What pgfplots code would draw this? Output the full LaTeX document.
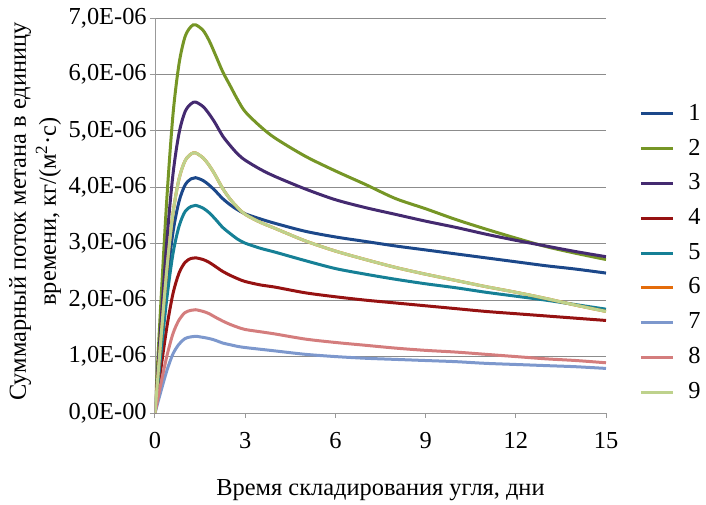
\documentclass[border=0pt]{standalone}
\usepackage{fontspec}
\setmainfont{Liberation Serif}
\usepackage{pgfplots}
\usepackage{pgfplotstable}
\pgfplotsset{compat=1.18}

\definecolor{c1}{RGB}{28,72,138}
\definecolor{c2}{RGB}{118,150,38}
\definecolor{c3}{RGB}{68,42,112}
\definecolor{c4}{RGB}{150,18,18}
\definecolor{c5}{RGB}{22,128,150}
\definecolor{c6}{RGB}{228,108,10}
\definecolor{c7}{RGB}{125,152,205}
\definecolor{c8}{RGB}{212,125,125}
\definecolor{c9}{RGB}{190,210,140}

% flux, 1e-6 kg/(m2 s)
\pgfplotstableread{
x    s1   s2   s3   s4   s5   s6   s7   s8   s9
0    0    0    0    0    0    0    0    0    0
0.2  1.21 2.00 1.60 0.80 1.07 1.34 0.39 0.53 1.34
0.4  2.34 3.85 3.09 1.54 2.06 2.58 0.76 1.02 2.58
0.6  3.21 5.30 4.24 2.12 2.83 3.55 1.05 1.41 3.55
0.8  3.75 6.19 4.96 2.48 3.31 4.15 1.22 1.65 4.15
1.0  4.04 6.67 5.34 2.67 3.57 4.47 1.32 1.78 4.47
1.2  4.15 6.85 5.48 2.74 3.66 4.59 1.35 1.82 4.59
1.35 4.17 6.88 5.51 2.75 3.68 4.61 1.36 1.83 4.61
1.6  4.12 6.78 5.43 2.72 3.63 4.52 1.34 1.80 4.52
1.8  4.04 6.60 5.30 2.67 3.55 4.39 1.32 1.76 4.39
2.0  3.94 6.36 5.14 2.60 3.44 4.22 1.29 1.70 4.22
2.25 3.80 6.05 4.91 2.51 3.29 3.98 1.24 1.63 3.98
2.5  3.69 5.80 4.74 2.44 3.18 3.79 1.21 1.57 3.79
2.75 3.60 5.55 4.59 2.38 3.08 3.64 1.18 1.52 3.64
3    3.53 5.34 4.48 2.33 3.01 3.52 1.16 1.48 3.52
3.5  3.44 5.08 4.32 2.27 2.92 3.38 1.13 1.44 3.38
4    3.36 4.87 4.19 2.23 2.85 3.27 1.10 1.40 3.27
5    3.22 4.55 3.97 2.13 2.70 3.05 1.04 1.31 3.05
6    3.12 4.29 3.78 2.06 2.56 2.87 1.00 1.25 2.87
7    3.04 4.05 3.64 2.00 2.46 2.72 0.97 1.20 2.72
8    2.96 3.80 3.52 1.95 2.37 2.58 0.95 1.15 2.58
9    2.89 3.62 3.40 1.90 2.29 2.46 0.93 1.11 2.46
10   2.82 3.43 3.29 1.85 2.22 2.35 0.91 1.08 2.35
11   2.75 3.26 3.17 1.80 2.14 2.24 0.88 1.04 2.24
12   2.68 3.10 3.06 1.76 2.07 2.14 0.86 1.00 2.14
13   2.61 2.95 2.96 1.72 2.00 2.03 0.84 0.96 2.03
14   2.55 2.83 2.86 1.68 1.92 1.91 0.82 0.93 1.91
15   2.48 2.72 2.77 1.64 1.84 1.80 0.79 0.89 1.80
}\flux

\begin{document}
\fontsize{12.2}{15}\selectfont
\begin{tikzpicture}
\useasboundingbox (-77.5pt,-45.5pt) rectangle (275.5pt,206.5pt);
\begin{axis}[
    scale only axis,
    width=225.5pt, height=197.5pt,
    xmin=0, xmax=15,
    ymin=0, ymax=7,
    xtick={0,3,6,9,12,15},
    ytick={0,1,2,3,4,5,6,7},
    yticklabels={{0,0E-00},{1,0E-06},{2,0E-06},{3,0E-06},{4,0E-06},{5,0E-06},{6,0E-06},{7,0E-06}},
    /pgf/number format/assume math mode=true,
    axis lines*=left,
    axis line style={draw=gray!80},
    tick align=outside,
    major tick length=2.5pt,
    tick style={draw=gray!80, line width=0.5pt},
    ymajorgrids=true,
    grid style={draw=gray!90, line width=0.5pt},
    xticklabel style={yshift=-3pt},
    yticklabel style={xshift=2.6pt},
    xlabel={Время складирования угля, дни},
    every axis x label/.style={at={(axis description cs:0.5,0)}, anchor=center, yshift=-38.5pt},
    ylabel={Суммарный поток метана в единицу\\времени, кг/(м\textsuperscript{2}·с)},
    every axis y label/.style={at={(axis description cs:-0.266,0.51)}, anchor=center, rotate=90, align=center},
    legend style={at={(axis description cs:1,0.405)}, anchor=west, xshift=13.5pt,
        draw=none, fill=none, row sep=5.5pt, column sep=6pt, nodes={inner sep=1pt}},
    legend cell align=left,
    legend image code/.code={\draw[#1] (0pt,0pt) -- (16pt,0pt);},
    every axis plot/.append style={line width=1.5pt, smooth, tension=0.5},
]
\addplot[c1] table[x=x, y=s1] {\flux};
\addplot[c2] table[x=x, y=s2] {\flux};
\addplot[c3] table[x=x, y=s3] {\flux};
\addplot[c4] table[x=x, y=s4] {\flux};
\addplot[c5] table[x=x, y=s5] {\flux};
\addplot[c6] table[x=x, y=s6] {\flux};
\addplot[c7] table[x=x, y=s7] {\flux};
\addplot[c8] table[x=x, y=s8] {\flux};
\addplot[c9] table[x=x, y=s9] {\flux};
\legend{1,2,3,4,5,6,7,8,9}
\end{axis}
\end{tikzpicture}
\end{document}
